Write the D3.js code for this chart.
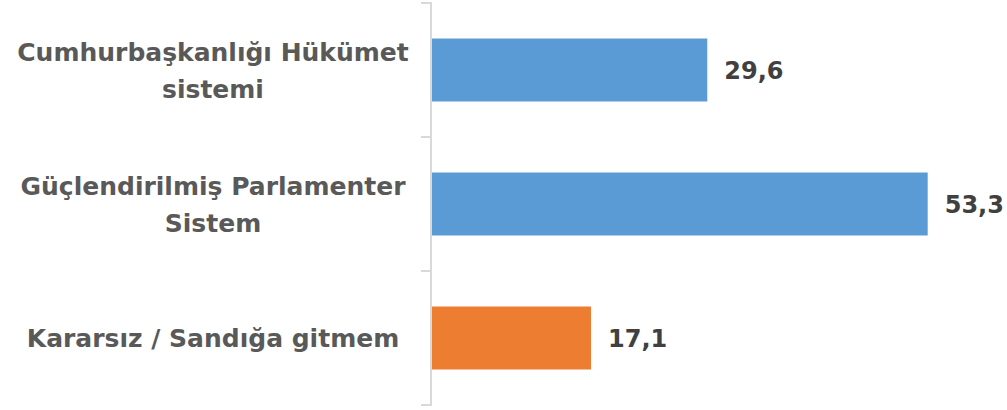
<!doctype html>
<html lang="tr">
<head>
<meta charset="utf-8">
<title>Hükümet sistemi tercihi</title>
<script src="https://cdn.jsdelivr.net/npm/d3@7"></script>
<style>
html, body { margin: 0; padding: 0; background: #fff; }
svg text { font-family: "DejaVu Sans", sans-serif; font-weight: bold; }
</style>
</head>
<body>
<svg id="chart" width="1007" height="410"></svg>
<script>
// data
const categories = ["Cumhurbaşkanlığı Hükümet sistemi", "Güçlendirilmiş Parlamenter Sistem", "Kararsız / Sandığa gitmem"];
const labelLines = [["Cumhurbaşkanlığı Hükümet", "sistemi"], ["Güçlendirilmiş Parlamenter", "Sistem"], ["Kararsız / Sandığa gitmem"]];
const values = [29.6, 53.3, 17.1];
const barColors = ["#5B9BD5", "#5B9BD5", "#ED7D31"];

const svg = d3.select("#chart");
const axisX = 431;

const y = d3.scaleBand()
  .domain(categories)
  .range([3, 405])
  .paddingInner(0.53)
  .paddingOuter(0.265);

const x = d3.scaleLinear()
  .domain([0, 60])
  .range([axisX + 1, 990]);

// bars
svg.selectAll("rect.bar")
  .data(categories)
  .enter().append("rect")
  .attr("class", "bar")
  .attr("x", x(0))
  .attr("y", d => y(d))
  .attr("width", (d, i) => x(values[i]) - x(0))
  .attr("height", y.bandwidth())
  .attr("fill", (d, i) => barColors[i]);

// axis line + ticks between the bands
const step = y.step();
const tickYs = [3].concat(categories.slice(1).map(d => y(d) - step * y.paddingInner() / 2)).concat([405]);

svg.append("line")
  .attr("x1", axisX).attr("x2", axisX)
  .attr("y1", 3).attr("y2", 405)
  .attr("stroke", "#D9D9D9").attr("stroke-width", 2);

svg.selectAll("line.tick")
  .data(tickYs)
  .enter().append("line")
  .attr("class", "tick")
  .attr("x1", axisX - 10).attr("x2", axisX + 1)
  .attr("y1", d => d).attr("y2", d => d)
  .attr("stroke", "#D9D9D9").attr("stroke-width", 2);

// category labels
const labels = svg.selectAll("text.cat")
  .data(categories)
  .enter().append("text")
  .attr("class", "cat")
  .attr("text-anchor", "middle")
  .attr("fill", "#595959")
  .style("font-size", "25px");

labels.each(function(d, i) {
  const lines = labelLines[i];
  const cy = y(d) + y.bandwidth() / 2;
  const lh = 37;
  const top = cy - (lines.length - 1) * lh / 2;
  d3.select(this).selectAll("tspan")
    .data(lines)
    .enter().append("tspan")
    .attr("x", 213)
    .attr("y", (l, j) => top + j * lh)
    .attr("dy", "0.36em")
    .text(l => l);
});

// value labels
svg.selectAll("text.val")
  .data(categories)
  .enter().append("text")
  .attr("class", "val")
  .attr("x", (d, i) => x(values[i]) + 17)
  .attr("y", d => y(d) + y.bandwidth() / 2)
  .attr("dy", "0.36em")
  .attr("fill", "#404040")
  .style("font-size", "24px")
  .text((d, i) => d3.format(".1f")(values[i]).replace(".", ","));
</script>
</body>
</html>
